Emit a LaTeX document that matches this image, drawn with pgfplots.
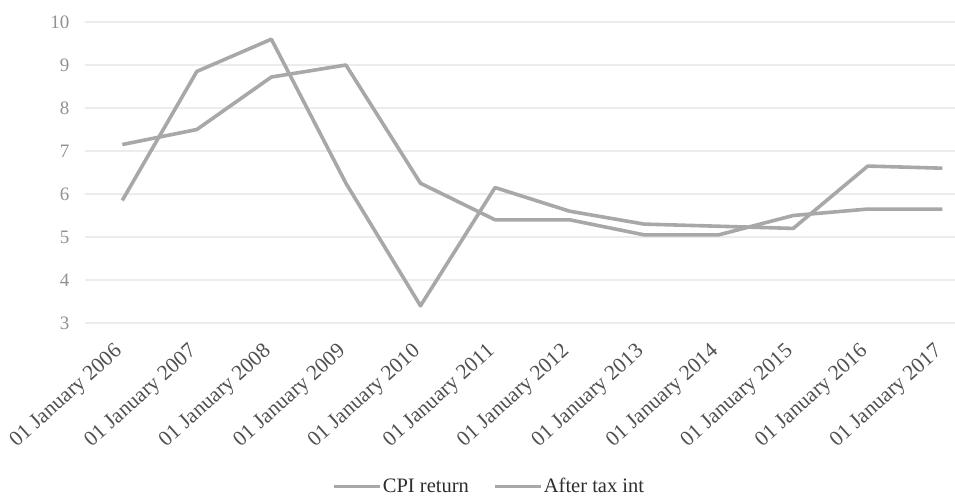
\documentclass[border=0pt]{standalone}
\usepackage{pgfplots}
\pgfplotsset{compat=1.18}
\usepackage{fontspec}
\setmainfont{Liberation Serif}

\definecolor{seriesgray}{RGB}{168,168,168}
\definecolor{gridgray}{RGB}{236,236,236}
\definecolor{ticklab}{RGB}{145,145,145}
\definecolor{datelab}{RGB}{80,80,80}
\definecolor{legtext}{RGB}{45,45,45}

\begin{document}
\begin{tikzpicture}
\begin{axis}[
  at={(0,0)}, anchor=south west,
  scale only axis,
  width=870pt, height=301pt,
  xmin=-0.5, xmax=11.17,
  ymin=3, ymax=10,
  ytick={3,4,5,6,7,8,9,10},
  xtick={0,...,11},
  xticklabels={01 January 2006,01 January 2007,01 January 2008,01 January 2009,
    01 January 2010,01 January 2011,01 January 2012,01 January 2013,
    01 January 2014,01 January 2015,01 January 2016,01 January 2017},
  axis line style={draw=none},
  major tick length=0pt,
  ymajorgrids,
  grid style={gridgray, line width=1.6pt},
  yticklabel style={font=\fontsize{19}{21}\selectfont, text=ticklab, xshift=-12pt},
  xticklabel style={font=\fontsize{21.5}{23}\selectfont, text=datelab,
    yshift=-14pt, xshift=-9pt, rotate=42, anchor=north east},
  /pgf/number format/assume math mode=true,
  legend style={draw=none, fill=none, at={(404pt,-163pt)}, anchor=center,
    inner sep=1pt, nodes={inner xsep=1pt},
    font=\fontsize{20.5}{22}\selectfont, text=legtext,
    /tikz/every even column/.append style={column sep=24pt}},
  legend columns=2,
  legend image code/.code={\draw[#1, line width=3pt] (0pt,0pt) -- (46pt,0pt);},
]
\addplot[seriesgray, line width=3.6pt, line join=round] coordinates {
  (0,5.85) (1,8.85) (2,9.6) (3,6.25) (4,3.4) (5,6.15)
  (6,5.6) (7,5.3) (8,5.25) (9,5.2) (10,6.65) (11,6.6)};
\addlegendentry{CPI return}
\addplot[seriesgray, line width=3.6pt, line join=round] coordinates {
  (0,7.15) (1,7.5) (2,8.72) (3,9.0) (4,6.25) (5,5.4)
  (6,5.4) (7,5.05) (8,5.05) (9,5.5) (10,5.65) (11,5.65)};
\addlegendentry{After tax int}
\end{axis}
\pgfresetboundingbox
\path[use as bounding box] (-85pt,-178pt) rectangle (870pt,323pt);
\end{tikzpicture}
\end{document}
